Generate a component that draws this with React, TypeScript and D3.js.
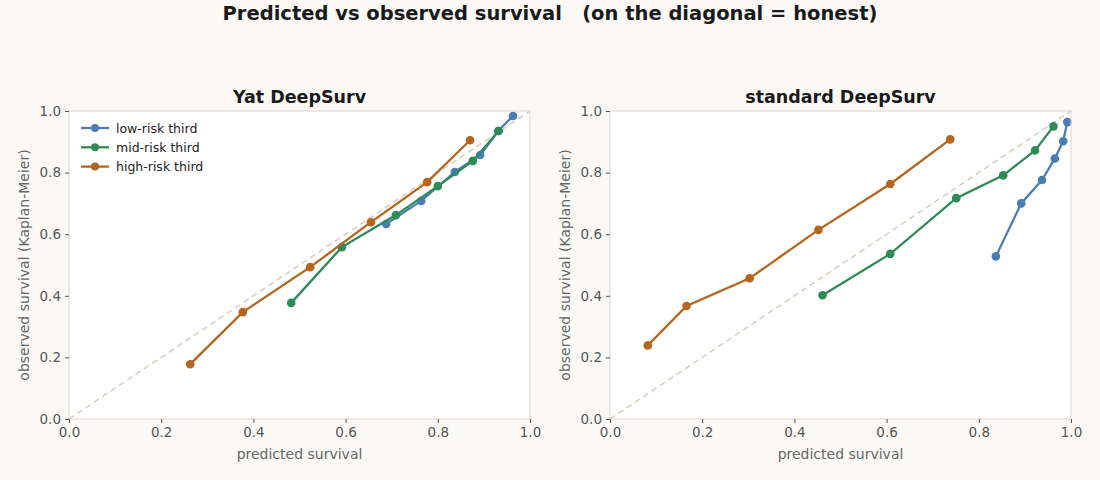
import React, { useEffect, useRef } from "react";
import * as d3 from "d3";

// predicted vs observed survival per risk third, two models
const yatLow = [
  [0.688, 0.633], [0.764, 0.708], [0.837, 0.802], [0.892, 0.857], [0.931, 0.935], [0.963, 0.984],
];
const yatMid = [
  [0.482, 0.377], [0.592, 0.558], [0.709, 0.662], [0.8, 0.756], [0.876, 0.838], [0.932, 0.935],
];
const yatHigh = [
  [0.263, 0.178], [0.377, 0.347], [0.523, 0.493], [0.655, 0.639], [0.777, 0.769], [0.87, 0.905],
];

const stdLow = [
  [0.837, 0.528], [0.892, 0.7], [0.937, 0.776], [0.965, 0.846], [0.983, 0.902], [0.992, 0.964],
];
const stdMid = [
  [0.461, 0.402], [0.608, 0.536], [0.751, 0.717], [0.853, 0.791], [0.922, 0.872], [0.962, 0.95],
];
const stdHigh = [
  [0.082, 0.239], [0.166, 0.367], [0.303, 0.457], [0.452, 0.614], [0.608, 0.763], [0.738, 0.908],
];

const groupNames = ["low-risk third", "mid-risk third", "high-risk third"];
const groupColors = ["#4a7db4", "#2e8a57", "#b5651d"];
const ticks = [0, 0.2, 0.4, 0.6, 0.8, 1.0];

const panels = [
  { title: "Yat DeepSurv", series: [yatLow, yatMid, yatHigh], legend: true, left: 69 },
  { title: "standard DeepSurv", series: [stdLow, stdMid, stdHigh], legend: false, left: 610 },
];

const W = 1100;
const H = 480;
const plotW = 461;
const plotH = 308;
const top = 111;

const App: React.FC = () => {
  const svgRef = useRef<SVGSVGElement | null>(null);

  useEffect(() => {
    const svg = d3.select(svgRef.current);
    svg.selectAll("*").remove();
    const font = "DejaVu Sans, sans-serif";

    svg.append("rect").attr("width", W).attr("height", H).attr("fill", "#faf9f6");

    svg
      .append("text")
      .attr("x", W / 2)
      .attr("y", 20)
      .attr("text-anchor", "middle")
      .style("font-family", font)
      .style("font-size", "19.5px")
      .style("font-weight", "bold")
      .attr("fill", "#1a1a1a")
      .attr("xml:space", "preserve")
      .text("Predicted vs observed survival   (on the diagonal = honest)");

    panels.forEach((p) => {
      const x = d3.scaleLinear().domain([0, 1]).range([0, plotW]);
      const y = d3.scaleLinear().domain([0, 1]).range([plotH, 0]);
      const g = svg.append("g").attr("transform", `translate(${p.left},${top})`);

      g.append("rect")
        .attr("width", plotW)
        .attr("height", plotH)
        .attr("fill", "#ffffff");

      // perfect-calibration diagonal
      g.append("line")
        .attr("x1", x(0))
        .attr("y1", y(0))
        .attr("x2", x(1))
        .attr("y2", y(1))
        .attr("stroke", "#d9d0c2")
        .attr("stroke-width", 1.6)
        .attr("stroke-dasharray", "6,4");

      const line = d3
        .line<number[]>()
        .x((d) => x(d[0]))
        .y((d) => y(d[1]));

      p.series.forEach((s, i) => {
        g.append("path")
          .datum(s)
          .attr("d", line)
          .attr("fill", "none")
          .attr("stroke", groupColors[i])
          .attr("stroke-width", 2.3);
        g.selectAll(null)
          .data(s)
          .join("circle")
          .attr("cx", (d) => x(d[0]))
          .attr("cy", (d) => y(d[1]))
          .attr("r", 4.3)
          .attr("fill", groupColors[i]);
      });

      g.append("rect")
        .attr("width", plotW)
        .attr("height", plotH)
        .attr("fill", "none")
        .attr("stroke", "#dcd6cc")
        .attr("stroke-width", 1);

      const xAxis = g
        .append("g")
        .attr("transform", `translate(0,${plotH})`)
        .call(d3.axisBottom(x).tickValues(ticks).tickFormat(d3.format(".1f")).tickSize(4).tickPadding(4));
      const yAxis = g
        .append("g")
        .call(d3.axisLeft(y).tickValues(ticks).tickFormat(d3.format(".1f")).tickSize(4).tickPadding(4));
      [xAxis, yAxis].forEach((a) => {
        a.select(".domain").remove();
        a.selectAll("line").attr("stroke", "#555");
        a.selectAll("text")
          .attr("fill", "#555")
          .style("font-family", font)
          .style("font-size", "13.5px");
      });

      g.append("text")
        .attr("x", plotW / 2)
        .attr("y", -8)
        .attr("text-anchor", "middle")
        .style("font-family", font)
        .style("font-size", "17.5px")
        .style("font-weight", "bold")
        .attr("fill", "#1a1a1a")
        .text(p.title);

      g.append("text")
        .attr("x", plotW / 2)
        .attr("y", plotH + 40)
        .attr("text-anchor", "middle")
        .style("font-family", font)
        .style("font-size", "14px")
        .attr("fill", "#666")
        .text("predicted survival");

      g.append("text")
        .attr("transform", `translate(-40,${plotH / 2}) rotate(-90)`)
        .attr("text-anchor", "middle")
        .style("font-family", font)
        .style("font-size", "14px")
        .attr("fill", "#666")
        .text("observed survival (Kaplan-Meier)");

      if (p.legend) {
        const lg = g.append("g").attr("transform", "translate(12,17)");
        groupNames.forEach((name, i) => {
          const row = lg.append("g").attr("transform", `translate(0,${i * 19.3})`);
          row.append("line")
            .attr("x1", 0)
            .attr("x2", 28)
            .attr("stroke", groupColors[i])
            .attr("stroke-width", 2.3);
          row.append("circle").attr("cx", 14).attr("r", 4).attr("fill", groupColors[i]);
          row.append("text")
            .attr("x", 35)
            .attr("y", 4.5)
            .style("font-family", font)
            .style("font-size", "12.5px")
            .attr("fill", "#222")
            .text(name);
        });
      }
    });
  }, []);

  return (
    <svg
      ref={svgRef}
      width={W}
      height={H}
      style={{ position: "absolute", left: 0, top: 0, display: "block" }}
    />
  );
};

export default App;
